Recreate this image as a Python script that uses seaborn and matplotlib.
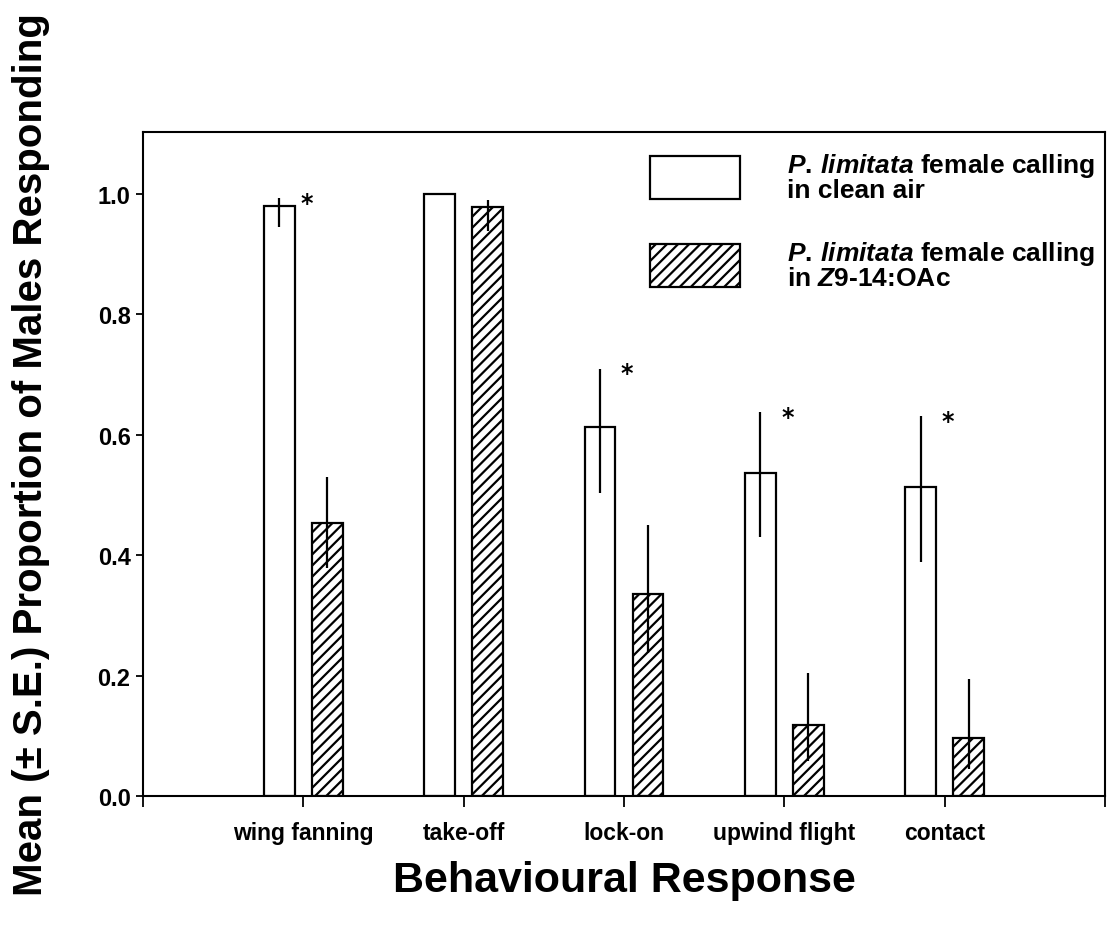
import matplotlib
matplotlib.use("Agg")
import matplotlib.pyplot as plt
from matplotlib.patches import Patch
from matplotlib import font_manager
import seaborn as sns
import pandas as pd

# ---- data ----
responses = ["wing fanning", "take-off", "lock-on", "upwind flight", "contact"]
treatments = ["clean air", "Z9-14:OAc"]
clean_mean = [0.980, 1.000, 0.613, 0.537, 0.514]
clean_upper = [0.993, 1.000, 0.710, 0.638, 0.631]
clean_lower = [0.945, 1.000, 0.504, 0.430, 0.389]
z9_mean = [0.454, 0.979, 0.335, 0.118, 0.096]
z9_upper = [0.530, 0.990, 0.450, 0.204, 0.194]
z9_lower = [0.378, 0.938, 0.237, 0.058, 0.045]
significant = [True, False, True, True, True]
legend_labels = [
    "$\\mathit{P.\\,limitata}$ female calling\nin clean air",
    "$\\mathit{P.\\,limitata}$ female calling\nin $\\mathit{Z}$9-14:OAc",
]
yticks = [0.0, 0.2, 0.4, 0.6, 0.8, 1.0]

sns.set_style("ticks")
plt.rcParams["font.family"] = ["Liberation Sans", "DejaVu Sans"]
plt.rcParams["font.weight"] = "bold"
plt.rcParams["text.color"] = "black"
plt.rcParams["axes.labelcolor"] = "black"
plt.rcParams["xtick.color"] = "black"
plt.rcParams["ytick.color"] = "black"
plt.rcParams["mathtext.fontset"] = "custom"
plt.rcParams["mathtext.it"] = "Liberation Sans:italic:bold"
plt.rcParams["mathtext.rm"] = "Liberation Sans:bold"
plt.rcParams["hatch.linewidth"] = 1.6
plt.rcParams["hatch.color"] = "black"

names = {f.name for f in font_manager.fontManager.ttflist}
narrow = "Liberation Sans Narrow" in names

df = pd.DataFrame({
    "response": responses * 2,
    "treatment": [treatments[0]] * 5 + [treatments[1]] * 5,
    "mean": clean_mean + z9_mean,
})

fig = plt.figure(figsize=(11.13, 9.28), dpi=100)
ax = fig.add_axes([0.1285, 0.1412, 0.8643, 0.7155])

sns.barplot(data=df, x="response", y="mean", hue="treatment",
            order=responses, hue_order=treatments,
            palette=["white", "white"], edgecolor="black", linewidth=1.6,
            width=0.6, gap=0.36, errorbar=None, legend=False, ax=ax)

for bar in ax.containers[1]:
    bar.set_hatch("///")

lowers = [clean_lower, z9_lower]
uppers = [clean_upper, z9_upper]
for ci, cont in enumerate(ax.containers):
    for i, bar in enumerate(cont):
        xc = bar.get_x() + bar.get_width() / 2
        if uppers[ci][i] != lowers[ci][i]:
            ax.vlines(xc, lowers[ci][i], uppers[ci][i], color="black", lw=1.6, zorder=5)

for i, sig in enumerate(significant):
    if sig:
        ax.text(i + 0.02, clean_upper[i] - 0.008, "*", ha="center", va="center",
                fontsize=17, fontweight="bold", color="black",
                family=["DejaVu Sans"])

ax.set_xlim(-1, 5)
ax.set_ylim(0, 1.103)
ax.set_xticks(range(-1, 6))
xfam = ["Liberation Sans Narrow"] if narrow else ["Liberation Sans"]
xfs = 19 if narrow else 16.5
ax.set_xticklabels([""] + responses + [""], fontsize=xfs, fontweight="bold", family=xfam)
ax.set_yticks(yticks)
ax.set_yticklabels([f"{v:.1f}" for v in yticks], fontsize=17, fontweight="bold")
ax.tick_params(axis="x", direction="out", length=8, width=1.3, pad=10, color="black")
ax.tick_params(axis="y", direction="out", length=5, width=1.3, pad=4, color="black")
for sp in ax.spines.values():
    sp.set_visible(True)
    sp.set_linewidth(1.5)
    sp.set_color("black")

ax.set_xlabel("Behavioural Response", fontsize=31, fontweight="bold")
ax.set_ylabel("Mean (\u00b1 S.E.) Proportion of Males Responding", fontsize=29, fontweight="bold")
ax.xaxis.set_label_coords(0.5, -0.097)
ax.yaxis.set_label_coords(-0.097, 0.515)

handles = [Patch(facecolor="white", edgecolor="black", linewidth=1.6),
           Patch(facecolor="white", edgecolor="black", linewidth=1.6, hatch="///")]
leg = ax.legend(handles, legend_labels, loc="upper left", bbox_to_anchor=(0.527, 0.972),
                frameon=False, fontsize=19, handlelength=3.4, handleheight=2.1,
                handletextpad=1.8, labelspacing=1.4, borderpad=0, borderaxespad=0)
for t in leg.get_texts():
    t.set_linespacing(0.95)
    t.set_fontweight("bold")
    t.set_color("black")

fig.savefig("out.png", dpi=100, facecolor="white")
